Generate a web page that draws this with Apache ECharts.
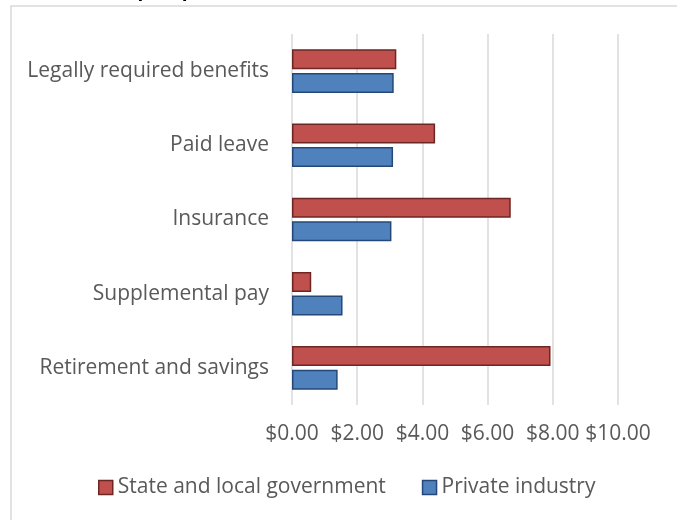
<!DOCTYPE html>
<html>
<head>
<meta charset="utf-8">
<script src="https://cdn.jsdelivr.net/npm/echarts@6/dist/echarts.min.js"></script>
<style>
  html, body { margin: 0; padding: 0; background: #fff; }
  #chart { width: 677px; height: 520px; }
</style>
</head>
<body>
<div id="chart"></div>
<script>
// categories, bottom to top as ECharts draws a category y axis
const categories = [
  'Retirement and savings',
  'Supplemental pay',
  'Insurance',
  'Paid leave',
  'Legally required benefits',
]
const stateLocal = [7.93, 0.59, 6.71, 4.39, 3.2]
const privateIndustry = [1.4, 1.55, 3.05, 3.1, 3.12]
const xTicks = [0, 2, 4, 6, 8, 10]

const font = '"Open Sans", sans-serif'

const myChart = echarts.init(document.getElementById('chart'))
myChart.setOption({
  backgroundColor: '#fff',
  animation: false,
  graphic: [
    {
      // frame of the chart area
      type: 'rect',
      shape: { x: 11, y: 6, width: 700, height: 600 },
      style: { fill: 'none', stroke: '#d9d9d9', lineWidth: 1.5 },
    },
    // title, cut off at the top of the picture
    {
      type: 'text',
      x: 155,
      y: -19,
      style: {
        text: 'Benefit Costs Per Hour for Each Group,',
        font: 'bold 19px ' + font,
        fill: '#000',
        align: 'right',
      },
    },
    {
      type: 'text',
      x: 160,
      y: -19,
      style: {
        text: 'Sept. 2019',
        font: 'bold 19px ' + font,
        fill: '#000',
        align: 'left',
      },
    },
  ],
  grid: {
    left: 292,
    right: 59,
    top: 34,
    bottom: 115,
  },
  legend: {
    data: ['State and local government', 'Private industry'],
    bottom: 17,
    left: 93,
    itemWidth: 14,
    itemHeight: 14,
    itemGap: 36,
    itemStyle: { borderWidth: 1.5 },
    icon: 'rect',
    textStyle: { color: '#595959', fontSize: 21, fontFamily: font },
  },
  xAxis: {
    type: 'value',
    min: xTicks[0],
    max: xTicks[xTicks.length - 1],
    interval: 2,
    axisLine: { show: false },
    axisTick: { show: false },
    splitLine: { lineStyle: { color: '#d9d9d9', width: 1.5 } },
    axisLabel: {
      color: '#595959',
      fontSize: 21,
      fontFamily: font,
      margin: 19,
      formatter: (v) => '$' + v.toFixed(2),
    },
  },
  yAxis: {
    type: 'category',
    data: categories,
    axisLine: { show: false },
    axisTick: { show: false },
    axisLabel: {
      color: '#595959',
      fontSize: 21,
      fontFamily: font,
      margin: 23,
    },
  },
  series: [
    {
      name: 'State and local government',
      type: 'bar',
      data: stateLocal,
      barWidth: 20,
      barGap: '18%',
      itemStyle: { color: '#c0504d', borderColor: '#6e2624', borderWidth: 1.5 },
    },
    {
      name: 'Private industry',
      type: 'bar',
      data: privateIndustry,
      barWidth: 20,
      barGap: '18%',
      itemStyle: { color: '#4f81bd', borderColor: '#264878', borderWidth: 1.5 },
    },
  ],
})
</script>
</body>
</html>
